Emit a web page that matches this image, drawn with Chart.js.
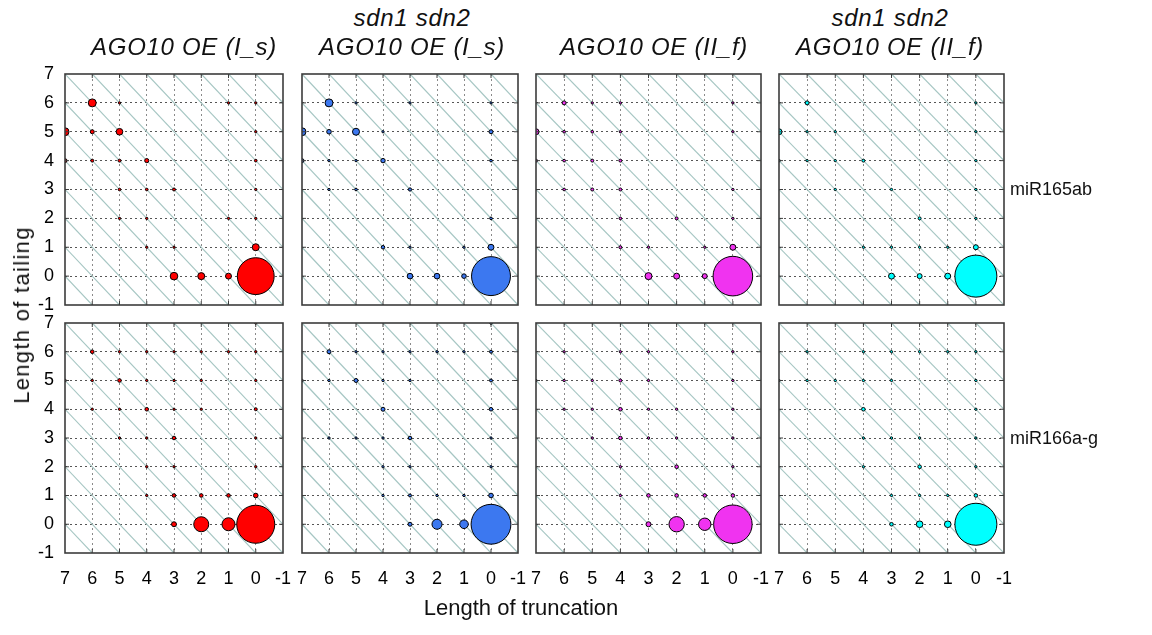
<!DOCTYPE html>
<html>
<head>
<meta charset="utf-8">
<script src="https://cdn.jsdelivr.net/npm/chart.js@4.4.1/dist/chart.umd.min.js"></script>
<style>
body { margin: 0; background: #fff; }
#wrap { position: relative; width: 1152px; height: 635px; overflow: hidden; font-family: "Liberation Sans", Arial, sans-serif; color: #111; }
.box { position: absolute; }
.lbl { position: absolute; white-space: nowrap; line-height: 28px; }
.ttl { font-style: italic; font-size: 24px; letter-spacing: 0.7px; transform: translateX(-50%); }
</style>
</head>
<body>
<div id="wrap"></div>
<script>
// [length of truncation, length of tailing, share of reads]
var mir165_Is = [
  [6,6,3.6],[5,6,0.3],[1,6,0.3],[0,6,0.3],
  [7,5,3.6],[6,5,0.9],[5,5,2.5],[0,5,0.3],
  [7,4,0.9],[6,4,0.5],[5,4,0.5],[4,4,1.0],[0,4,0.4],
  [5,3,0.4],[4,3,0.4],[3,3,0.5],[0,3,0.3],
  [5,2,0.3],[4,2,0.3],[1,2,0.3],[0,2,0.3],
  [4,1,0.3],[3,1,0.3],[0,1,2.8],
  [3,0,3.3],[2,0,2.8],[1,0,2.0],[0,0,77]
];
var mir165_sdn_Is = [
  [6,6,3.6],[5,6,0.3],[3,6,0.3],[0,6,0.3],
  [7,5,3.6],[6,5,1.2],[5,5,2.8],[4,5,0.3],[0,5,0.9],
  [7,4,0.9],[6,4,0.3],[5,4,0.3],[4,4,1.1],[0,4,0.4],
  [6,3,0.3],[5,3,0.4],[3,3,0.6],
  [0,2,0.4],
  [4,1,0.7],[3,1,0.3],[1,1,0.3],[0,1,2.0],
  [3,0,1.8],[2,0,1.8],[1,0,1.2],[0,0,86]
];
var mir165_IIf = [
  [6,6,0.9],[5,6,0.3],[4,6,0.3],[0,6,0.3],
  [7,5,2.0],[6,5,0.4],[5,5,0.4],[4,5,0.3],[0,5,0.3],
  [7,4,0.5],[6,4,0.4],[5,4,0.5],[4,4,0.5],
  [6,3,0.4],[5,3,0.5],[4,3,0.5],[0,3,0.3],
  [4,2,0.4],[2,2,0.5],[0,2,0.3],
  [4,1,0.5],[3,1,0.3],[1,1,0.3],[0,1,2.0],
  [3,0,2.8],[2,0,2.0],[1,0,1.4],[0,0,89]
];
var mir165_sdn_IIf = [
  [6,6,0.9],[0,6,0.3],
  [7,5,2.0],[6,5,0.3],[5,5,0.3],[0,5,0.3],
  [7,4,0.4],[6,4,0.3],[5,4,0.3],[4,4,0.5],[0,4,0.3],
  [5,3,0.3],[3,3,0.3],[0,3,0.3],
  [2,2,0.5],[0,2,0.3],
  [4,1,0.3],[3,1,0.3],[2,1,0.3],[1,1,0.3],[0,1,1.4],
  [3,0,2.0],[2,0,1.4],[1,0,2.0],[0,0,100]
];
var mir166_Is = [
  [0,7,0.3],
  [6,6,0.73],[5,6,0.3],[4,6,0.3],[3,6,0.3],[2,6,0.3],[1,6,0.3],[0,6,0.3],
  [7,5,0.4],[6,5,0.3],[5,5,0.73],[4,5,0.3],[3,5,0.3],[2,5,0.3],[0,5,0.3],
  [6,4,0.3],[5,4,0.3],[4,4,0.73],[3,4,0.3],[2,4,0.3],[0,4,0.5],
  [5,3,0.3],[4,3,0.3],[3,3,0.73],[0,3,0.3],
  [4,2,0.3],[3,2,0.3],[0,2,0.3],
  [4,1,0.3],[3,1,0.73],[2,1,0.73],[1,1,0.73],[0,1,1.2],
  [3,0,1.4],[2,0,12.8],[1,0,9.6],[0,0,82]
];
var mir166_sdn_Is = [
  [0,7,0.4],
  [6,6,0.9],[5,6,0.3],[4,6,0.3],[3,6,0.3],[2,6,0.3],[1,6,0.3],[0,6,0.5],
  [7,5,0.4],[6,5,0.3],[5,5,0.9],[4,5,0.3],[3,5,0.3],[0,5,0.5],
  [4,4,0.9],[0,4,0.73],
  [6,3,0.3],[5,3,0.3],[4,3,0.3],[3,3,0.73],[0,3,0.3],
  [4,2,0.3],[3,2,0.3],[0,2,0.3],
  [4,1,0.3],[3,1,0.5],[2,1,0.3],[1,1,0.3],[0,1,1.2],
  [3,0,0.9],[2,0,5.7],[1,0,4.2],[0,0,90]
];
var mir166_IIf = [
  [6,6,0.3],[4,6,0.3],[3,6,0.3],[0,6,0.3],
  [7,5,0.3],[6,5,0.3],[5,5,0.3],[4,5,0.5],[3,5,0.3],[0,5,0.3],
  [6,4,0.3],[5,4,0.3],[4,4,0.73],[3,4,0.3],[2,4,0.3],[0,4,0.3],
  [5,3,0.3],[4,3,0.73],[3,3,0.3],[2,3,0.3],[0,3,0.3],
  [4,2,0.3],[2,2,0.73],[0,2,0.3],
  [4,1,0.3],[3,1,0.73],[2,1,0.73],[1,1,0.73],[0,1,0.73],
  [3,0,1.4],[2,0,13.4],[1,0,8.7],[0,0,84]
];
var mir166_sdn_IIf = [
  [6,6,0.3],[4,6,0.3],[3,6,0.3],[2,6,0.3],[1,6,0.3],[0,6,0.3],
  [7,5,0.3],[6,5,0.3],[5,5,0.3],[4,5,0.3],[3,5,0.3],[0,5,0.3],
  [4,4,0.73],[0,4,0.3],
  [4,3,0.3],[3,3,0.3],[2,3,0.3],[0,3,0.3],
  [4,2,0.3],[2,2,0.73],[0,2,0.3],
  [3,1,0.3],[2,1,0.3],[1,1,0.3],[0,1,0.73],
  [3,0,0.73],[2,0,2.5],[1,0,2.5],[0,0,100]
];

var titles = [
  ["", "AGO10 OE (I_s)"],
  ["sdn1 sdn2", "AGO10 OE (I_s)"],
  ["", "AGO10 OE (II_f)"],
  ["sdn1 sdn2", "AGO10 OE (II_f)"]
];
var rowNames = ["miR165ab", "miR166a-g"];
var colColors = ["#ff0000", "#3c78f0", "#f033f0", "#00ffff"];

var panels = [
  { data: mir165_Is, row: 0, col: 0 },
  { data: mir165_sdn_Is, row: 0, col: 1 },
  { data: mir165_IIf, row: 0, col: 2 },
  { data: mir165_sdn_IIf, row: 0, col: 3 },
  { data: mir166_Is, row: 1, col: 0 },
  { data: mir166_sdn_Is, row: 1, col: 1 },
  { data: mir166_IIf, row: 1, col: 2 },
  { data: mir166_sdn_IIf, row: 1, col: 3 }
];

// where the plot boxes sit on the page
var colLeft = [65, 302, 536, 779];
var colRight = [283, 518, 761, 1004];
var rowTop = [74, 323];
var rowBottom = [305, 553];
var titleX = [184, 412, 654, 890];

var wrap = document.getElementById("wrap");

function addText(txt, x, y, css, cls) {
  var d = document.createElement("div");
  d.className = "lbl " + (cls || "");
  d.textContent = txt;
  d.style.cssText += css;
  d.style.left = x + "px";
  d.style.top = y + "px";
  wrap.appendChild(d);
  return d;
}

// diagonal lines tailing - truncation = const
var hatch = {
  id: "hatch",
  beforeDatasetsDraw: function (chart) {
    var a = chart.chartArea, ctx = chart.ctx;
    var x = chart.scales.x, y = chart.scales.y;
    ctx.save();
    ctx.beginPath();
    ctx.rect(a.left, a.top, a.right - a.left, a.bottom - a.top);
    ctx.clip();
    ctx.strokeStyle = "#a6c6c3";
    ctx.lineWidth = 1.2;
    for (var c = -8; c <= 8; c++) {
      ctx.beginPath();
      ctx.moveTo(x.getPixelForValue(-2), y.getPixelForValue(-2 + c));
      ctx.lineTo(x.getPixelForValue(8), y.getPixelForValue(8 + c));
      ctx.stroke();
    }
    ctx.restore();
  }
};

var frame = {
  id: "frame",
  afterDatasetsDraw: function (chart) {
    var a = chart.chartArea, ctx = chart.ctx;
    var x = chart.scales.x, y = chart.scales.y;
    ctx.save();
    ctx.strokeStyle = "#3c3c3c";
    ctx.lineWidth = 1;
    ctx.beginPath();
    for (var v = 0; v <= 6; v++) {
      var px = x.getPixelForValue(v), py = y.getPixelForValue(v);
      ctx.moveTo(px, a.top); ctx.lineTo(px, a.top + 4);
      ctx.moveTo(px, a.bottom); ctx.lineTo(px, a.bottom - 4);
      ctx.moveTo(a.left, py); ctx.lineTo(a.left + 4, py);
      ctx.moveTo(a.right, py); ctx.lineTo(a.right - 4, py);
    }
    ctx.stroke();
    ctx.lineWidth = 1.6;
    ctx.strokeRect(a.left, a.top, a.right - a.left, a.bottom - a.top);
    ctx.restore();
  }
};

function edgeless(col) {
  return function (c) {
    if (c.tick && (c.tick.value === -1 || c.tick.value === 7)) return "rgba(0,0,0,0)";
    return col;
  };
}

function noPad(s) {
  s.paddingTop = 0; s.paddingBottom = 0; s.paddingLeft = 0; s.paddingRight = 0;
}

function makePanel(p) {
  var yw = p.col === 0 ? 50 : 0;
  var xh = p.row === 1 ? 40 : 0;
  var pad = 14;
  var w = colRight[p.col] - colLeft[p.col];
  var h = rowBottom[p.row] - rowTop[p.row];
  var div = document.createElement("div");
  div.className = "box";
  div.style.left = (colLeft[p.col] - yw - pad) + "px";
  div.style.top = (rowTop[p.row] - pad) + "px";
  div.style.width = (w + yw + 2 * pad) + "px";
  div.style.height = (h + xh + 2 * pad) + "px";
  var cv = document.createElement("canvas");
  div.appendChild(cv);
  wrap.appendChild(div);

  var pts = p.data.map(function (d) {
    return { x: d[0], y: d[1], r: Math.max(1.1, 2.1 * Math.sqrt(d[2])) };
  });

  new Chart(cv, {
    type: "bubble",
    data: {
      datasets: [{
        data: pts,
        backgroundColor: colColors[p.col],
        borderColor: "#000",
        borderWidth: 1,
        clip: 0
      }]
    },
    options: {
      responsive: true,
      maintainAspectRatio: false,
      animation: false,
      layout: { padding: pad, autoPadding: false },
      plugins: { legend: { display: false }, tooltip: { enabled: false } },
      scales: {
        x: {
          type: "linear", reverse: true, min: -1, max: 7,
          afterFit: function (s) { s.height = xh; noPad(s); },
          ticks: {
            display: p.row === 1, stepSize: 1, padding: 15, maxRotation: 0,
            color: "#000", font: { family: "Liberation Sans", size: 18 }
          },
          grid: { drawTicks: false, color: edgeless("#8a8a8a"), lineWidth: 1 },
          border: { display: false, dash: [2, 3] }
        },
        y: {
          type: "linear", min: -1, max: 7,
          afterFit: function (s) { s.width = yw; noPad(s); },
          ticks: {
            display: p.col === 0, stepSize: 1, padding: 11,
            color: "#000", font: { family: "Liberation Sans", size: 18 }
          },
          grid: { drawTicks: false, color: edgeless("#555"), lineWidth: 1 },
          border: { display: false, dash: [2, 3] }
        }
      }
    },
    plugins: [hatch, frame]
  });
}

panels.forEach(makePanel);

titles.forEach(function (t, i) {
  if (t[0]) addText(t[0], titleX[i], 4, "", "ttl");
  addText(t[1], titleX[i], 33, "", "ttl");
});

addText(rowNames[0], 1010, 175, "font-size:18px;");
addText(rowNames[1], 1010, 424, "font-size:18px;");

addText("Length of truncation", 521, 594, "font-size:22px;transform:translateX(-50%);");
addText("Length of tailing", 22, 301, "font-size:22px;letter-spacing:1.3px;transform:translate(-50%,0) rotate(-90deg);transform-origin:50% 50%;");
</script>
</body>
</html>
